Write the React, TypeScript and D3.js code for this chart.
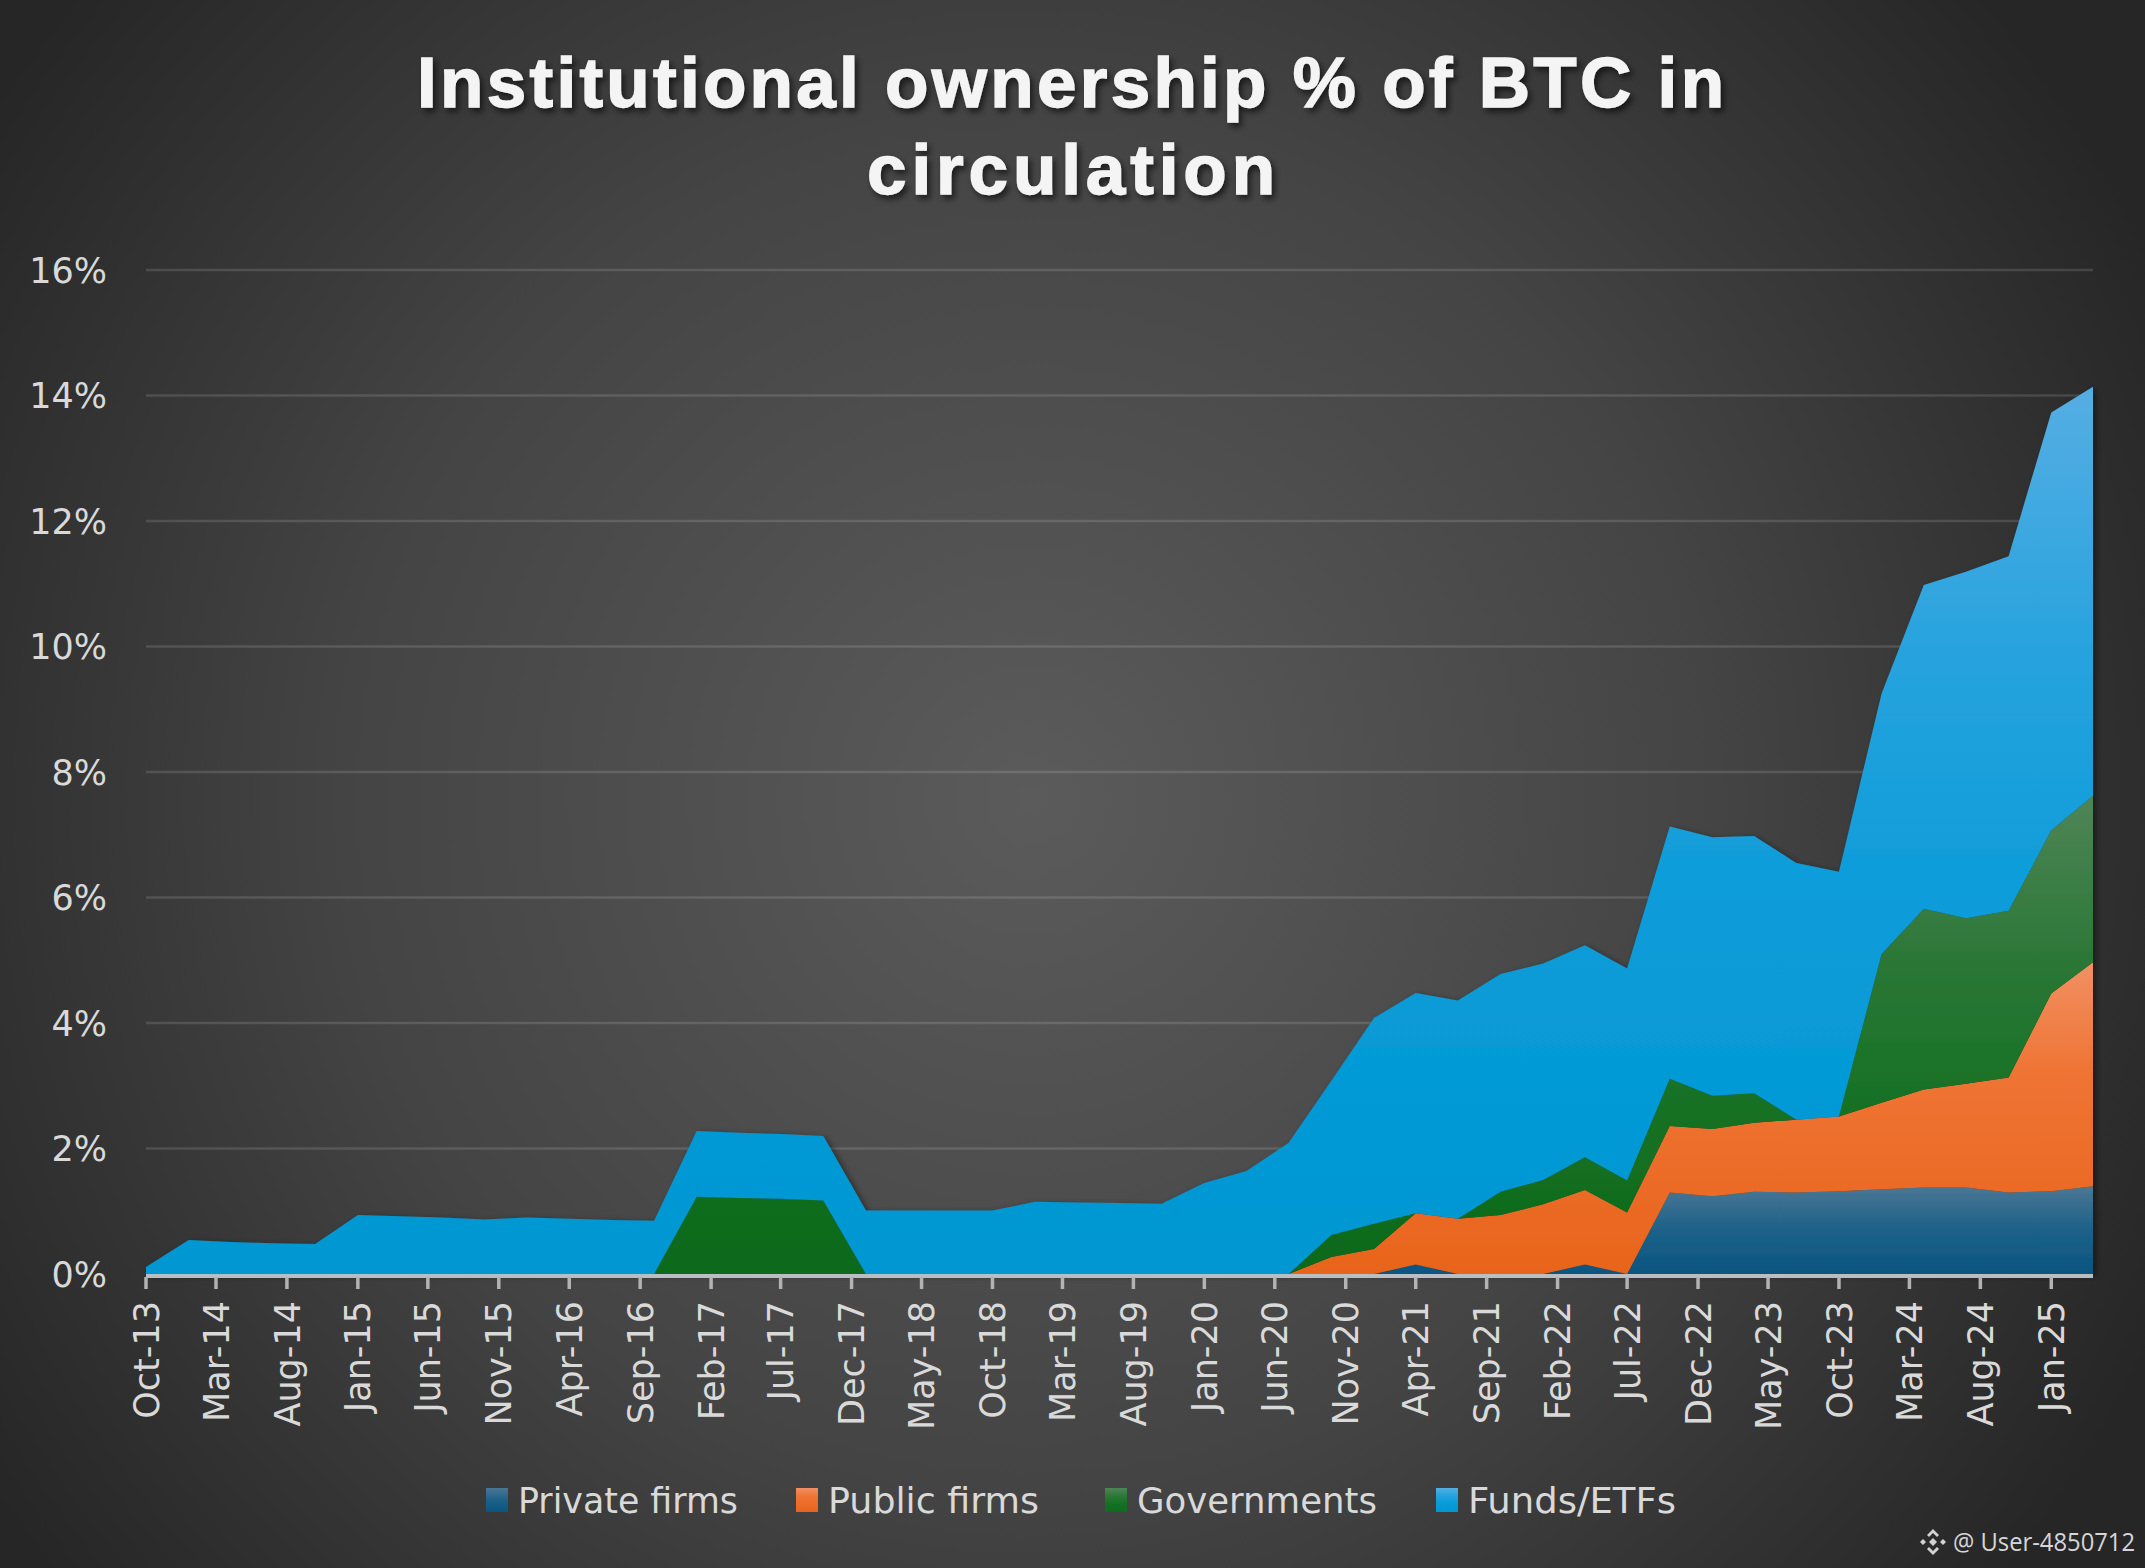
import React from "react";
import * as d3 from "d3";

// ---------- DATA ----------
const quarterDates = [
  "2013-10",
  "2014-01", "2014-04", "2014-07", "2014-10",
  "2015-01", "2015-04", "2015-07", "2015-10",
  "2016-01", "2016-04", "2016-07", "2016-10",
  "2017-01", "2017-04", "2017-07", "2017-10",
  "2018-01", "2018-04", "2018-07", "2018-10",
  "2019-01", "2019-04", "2019-07", "2019-10",
  "2020-01", "2020-04", "2020-07", "2020-10",
  "2021-01", "2021-04", "2021-07", "2021-10",
  "2022-01", "2022-04", "2022-07", "2022-10",
  "2023-01", "2023-04", "2023-07", "2023-10",
  "2024-01", "2024-04", "2024-07", "2024-10",
  "2025-01", "2025-04",
];

const privateFirms = [
  0, 0, 0, 0, 0, 0, 0, 0, 0, 0, 0, 0, 0, 0, 0, 0, 0, 0, 0, 0,
  0, 0, 0, 0, 0, 0, 0, 0, 0, 0,
  0.15, 0, 0, 0, 0.15, 0, 1.30, 1.24, 1.31, 1.30, 1.32, 1.35, 1.38, 1.38, 1.30, 1.32, 1.40,
];

const publicFirms = [
  0, 0, 0, 0, 0, 0, 0, 0, 0, 0, 0, 0, 0, 0, 0, 0, 0, 0, 0, 0,
  0, 0, 0, 0, 0, 0, 0, 0,
  0.27, 0.40, 0.82, 0.88, 0.94, 1.11, 1.19, 0.98, 1.06, 1.07, 1.10, 1.16, 1.19, 1.38, 1.56, 1.65, 1.83, 3.15, 3.57,
];

const governments = [
  0, 0, 0, 0, 0, 0, 0, 0, 0, 0, 0, 0, 0,
  1.23, 1.21, 1.20, 1.17,
  0, 0, 0, 0, 0, 0, 0, 0, 0, 0, 0,
  0.35, 0.40, 0, 0, 0.37, 0.39, 0.52, 0.51, 0.75, 0.53, 0.47, 0, 0, 2.37, 2.88, 2.64, 2.66, 2.60, 2.65,
];

const fundsETFs = [
  0.11, 0.54, 0.51, 0.49, 0.48, 0.94, 0.92, 0.90, 0.87, 0.90, 0.88, 0.86, 0.85,
  1.05, 1.04, 1.03, 1.03,
  1.01, 1.01, 1.01, 1.01,
  1.15, 1.14, 1.13, 1.12,
  1.45, 1.64, 2.09,
  2.46, 3.28, 3.51, 3.48, 3.47, 3.45, 3.38, 3.38, 4.02, 4.12, 4.10, 4.09, 3.90, 4.15, 5.16, 5.52, 5.65, 6.66, 6.52,
];

const seriesNames = ["Private firms", "Public firms", "Governments", "Funds/ETFs"];

const xTickLabels = [
  "Oct-13", "Mar-14", "Aug-14", "Jan-15", "Jun-15", "Nov-15", "Apr-16", "Sep-16",
  "Feb-17", "Jul-17", "Dec-17", "May-18", "Oct-18", "Mar-19", "Aug-19", "Jan-20",
  "Jun-20", "Nov-20", "Apr-21", "Sep-21", "Feb-22", "Jul-22", "Dec-22", "May-23",
  "Oct-23", "Mar-24", "Aug-24", "Jan-25",
];

const yTickValues = [0, 2, 4, 6, 8, 10, 12, 14, 16];

const titleLines = ["Institutional ownership % of BTC in", "circulation"];
const watermark = "@ User-4850712";

// ---------- STYLE / LAYOUT ----------
const W = 2145;
const H = 1568;
const plot = { left: 146, right: 2093, top: 270, bottom: 1274 };

const gradients = [
  [["0", "#4b7694"], ["0.5", "#1c6189"], ["1", "#0a5580"]],
  [["0", "#f19063"], ["0.35", "#ef7434"], ["1", "#e8641c"]],
  [["0", "#4f8557"], ["0.35", "#2a7736"], ["0.7", "#137021"], ["1", "#0f6a1d"]],
  [["0", "#55aee3"], ["0.3", "#27a3de"], ["0.6", "#0a9cd9"], ["1", "#0097d2"]],
];

const legendX = [486, 796, 1105, 1436];
const legendTextWidth = [220, 211, 240, 208];
const axisFont = "'DejaVu Sans', Verdana, sans-serif";

export default function App() {
  const parseQ = d3.timeParse("%Y-%m");
  const parseTick = d3.timeParse("%b-%y");

  const rows = quarterDates.map((d, i) => ({
    date: parseQ(d) as Date,
    "Private firms": privateFirms[i],
    "Public firms": publicFirms[i],
    Governments: governments[i],
    "Funds/ETFs": fundsETFs[i],
  }));

  const stacked = d3.stack<any>().keys(seriesNames)(rows);

  const x = d3
    .scaleTime()
    .domain(d3.extent(rows, (r) => r.date) as [Date, Date])
    .range([plot.left, plot.right]);
  const y = d3.scaleLinear().domain([0, 16]).range([plot.bottom, plot.top]);

  const area = d3
    .area<any>()
    .x((d) => x(d.data.date))
    .y0((d) => y(d[0]))
    .y1((d) => y(d[1]))
    .curve(d3.curveLinear);

  const fmt = (v: number) => d3.format(".0%")(v / 100);

  return (
    <svg
      width={W}
      height={H}
      viewBox={`0 0 ${W} ${H}`}
      style={{ position: "absolute", left: 0, top: 0, display: "block" }}
    >
      <defs>
        <radialGradient id="bg" gradientUnits="userSpaceOnUse" cx={1030} cy={800} r={1250}>
          <stop offset="0" stopColor="#5b5b5b" />
          <stop offset="0.55" stopColor="#444444" />
          <stop offset="1" stopColor="#262626" />
        </radialGradient>
        {gradients.map((g, i) => (
          <linearGradient key={i} id={`g${i}`} x1="0" y1="0" x2="0" y2="1">
            {g.map(([o, c]) => (
              <stop key={o} offset={o} stopColor={c} />
            ))}
          </linearGradient>
        ))}
        <filter id="tshadow" x="-5%" y="-20%" width="110%" height="150%">
          <feDropShadow dx="3" dy="4" stdDeviation="3" floodColor="#000" floodOpacity="0.6" />
        </filter>
        <filter id="ashadow" x="-5%" y="-5%" width="110%" height="110%">
          <feDropShadow dx="3" dy="2" stdDeviation="3" floodColor="#000" floodOpacity="0.45" />
        </filter>
      </defs>

      <rect x={0} y={0} width={W} height={H} fill="url(#bg)" />

      {/* title */}
      <g
        filter="url(#tshadow)"
        fill="#f4f4f4"
        stroke="#f4f4f4"
        strokeWidth={1.4}
        fontFamily="'Liberation Sans', Arial, sans-serif"
        fontWeight="bold"
        fontSize={71}
      >
        <text x={417} y={107} textLength={1307} lengthAdjust="spacing">
          {titleLines[0]}
        </text>
        <text x={867} y={194} textLength={408} lengthAdjust="spacing">
          {titleLines[1]}
        </text>
      </g>

      {/* gridlines */}
      <g>
        {yTickValues.map((v) => (
          <line
            key={v}
            x1={plot.left}
            x2={plot.right}
            y1={y(v)}
            y2={y(v)}
            stroke="rgba(255,255,255,0.13)"
            strokeWidth={2.5}
          />
        ))}
      </g>

      {/* y labels */}
      <g fontFamily={axisFont} fontSize={35} fill="#d9d9d9" textAnchor="end">
        {yTickValues.map((v) => (
          <text key={v} x={107} y={y(v)} dy="0.36em">
            {fmt(v)}
          </text>
        ))}
      </g>

      {/* areas */}
      <g filter="url(#ashadow)">
        {stacked.map((s, i) => (
          <path key={s.key} d={area(s) as string} fill={`url(#g${i})`} />
        ))}
      </g>

      {/* x axis */}
      <line x1={plot.left} x2={plot.right} y1={plot.bottom + 2} y2={plot.bottom + 2} stroke="#b9bec3" strokeWidth={4} />
      <g>
        {xTickLabels.map((t) => {
          const xx = x(parseTick(t) as Date);
          return (
            <g key={t}>
              <line x1={xx} x2={xx} y1={plot.bottom + 3} y2={plot.bottom + 15} stroke="#b3b3b3" strokeWidth={3.5} />
              <text
                transform={`translate(${xx},${plot.bottom + 27}) rotate(-90)`}
                textAnchor="end"
                dy="0.36em"
                fontFamily={axisFont}
                fontSize={35}
                fill="#d9d9d9"
              >
                {t}
              </text>
            </g>
          );
        })}
      </g>

      {/* legend */}
      <g fontFamily={axisFont} fontSize={35} fill="#d9d9d9">
        {seriesNames.map((n, i) => (
          <g key={n} transform={`translate(${legendX[i]},1500)`}>
            <rect x={0} y={-12} width={22} height={24} fill={`url(#g${i})`} />
            <text x={32} y={0} dy="0.36em" textLength={legendTextWidth[i]} lengthAdjust="spacingAndGlyphs">
              {n}
            </text>
          </g>
        ))}
      </g>

      {/* watermark */}
      <g transform="translate(1933,1542)" fill="#d2d2d2">
        <path d="M0,-4 L4,0 L0,4 L-4,0Z" />
        <path d="M0,-13 L6,-7 L4,-5 L0,-9 L-4,-5 L-6,-7Z" />
        <path d="M0,13 L6,7 L4,5 L0,9 L-4,5 L-6,7Z" />
        <path d="M-13,0 L-10,-3 L-7,0 L-10,3Z" />
        <path d="M13,0 L10,-3 L7,0 L10,3Z" />
      </g>
      <text x={1953} y={1551} fontFamily="'Open Sans', 'Noto Sans', sans-serif" fontSize={25} fill="#d6d6d6" textLength={182} lengthAdjust="spacingAndGlyphs">
        {watermark}
      </text>
    </svg>
  );
}
